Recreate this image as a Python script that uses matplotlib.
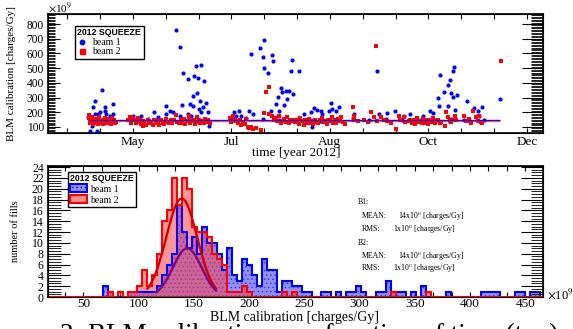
import numpy as np
import matplotlib
matplotlib.use('Agg')
import matplotlib.pyplot as plt
from matplotlib.ticker import MultipleLocator, FixedLocator, NullFormatter
from matplotlib.patches import Patch
from matplotlib.lines import Line2D

plt.rcParams['font.family'] = ['Liberation Serif', 'DejaVu Serif']
plt.rcParams['mathtext.fontset'] = 'stix'
plt.rcParams['hatch.linewidth'] = 0.5

# ---------------- data: top panel (day of year 2012, calibration x1e9) -------------
b1_day = [94.8, 98.8, 95.8, 97.8, 96.8, 97.8, 102.2, 100.8, 103.8, 104.8, 106.9, 108.9, 108.9,
          103.8, 99.8, 93.7, 121.0, 125.7, 134.1, 141.2, 141.2, 136.2, 123.0, 130.0,
          147.4, 149.5, 151.5, 154.5, 158.0, 160.6, 159.6, 162.6, 164.0, 157.5, 160.0, 150.9,
          155.9, 157.5, 162.0, 165.6, 163.6, 161.2, 166.6, 162.6, 156.5, 154.5, 149.5, 167.2,
          145.4, 143.4,
          192.9, 198.3, 200.6, 200.0, 206.0, 206.4, 201.0, 203.0, 217.1, 218.1, 211.1, 209.1,
          212.1, 214.1, 216.1, 218.6, 208.0, 213.1, 215.1, 205.0, 210.1, 182.8, 185.8, 191.9,
          186.8, 183.8, 193.9, 181.8,
          221.9, 231.4, 233.4, 235.4, 236.4, 241.5, 246.5, 244.5, 242.5, 240.4, 229.3, 225.3,
          230.3, 269.7, 255.6, 270.7, 275.8, 280.8, 285.9, 289.9,
          308.1, 316.8, 316.2, 314.1, 312.7, 310.7, 306.7, 314.8, 318.2, 315.8, 307.5, 312.7,
          317.2, 324.3, 328.7, 333.7, 331.3, 344.5, 302.0, 304.1, 298.0, 322.8, 331.7,
          95, 99, 103, 107, 120, 128, 135, 145, 150, 158, 165, 182, 190, 200, 210, 225, 235,
          245, 255, 265, 275, 285, 295, 305, 315, 325, 335]
b1_val = [75, 70, 109, 188, 234, 279, 351, 200, 211, 188, 177, 256, 188,
          234, 188, 166, 177, 177, 200, 245, 188, 166, 143, 154,
          760, 642, 465, 426, 449, 433, 512, 519, 410, 313, 329, 252,
          256, 245, 279, 261, 234, 222, 200, 200, 177, 188, 177, 109,
          200, 211,
          596, 637, 692, 574, 592, 546, 501, 465, 483, 556, 365, 306,
          336, 342, 347, 324, 256, 252, 290, 211, 211, 200, 211, 211,
          177, 177, 188, 166,
          478, 229, 215, 206, 188, 261, 238, 211, 222, 206, 200, 188,
          102, 478, 188, 188, 193, 206, 177, 188,
          454, 510, 478, 420, 386, 340, 297, 329, 320, 306, 245, 245,
          215, 274, 227, 234, 206, 293, 206, 193, 177, 147, 177,
          140, 150, 130, 160, 150, 140, 150, 145, 160, 150, 140, 150, 160, 155, 150, 150, 140,
          150, 160, 150, 155, 150, 145, 150, 155, 150, 150]

b2_day = [94, 94.5, 95, 95.5, 96, 96.5, 97, 97.5, 98, 98.5, 99, 99.5, 100, 100.5, 101, 101.5,
          102, 102.5, 103, 103.5, 104, 104.5, 105, 105.5, 106, 106.5, 107, 107.5, 108, 108.5,
          109, 109.5, 110, 110.5, 94, 96, 100, 104, 108,
          118, 119, 119.5, 120, 121, 122, 123, 124, 125, 126, 127, 128, 129, 130, 131, 132, 133,
          134, 135, 136, 137, 138, 139, 140, 141, 142, 143, 144, 145, 120, 124, 127,
          146, 147, 148, 149, 150, 151, 152, 153, 154, 155, 156, 157, 158, 159, 160, 161, 162,
          163, 164, 165, 166, 167, 168, 155, 160,
          180, 181, 182, 183, 184, 185, 186, 187, 188, 189, 190, 191, 192, 193, 194, 196, 199,
          201, 202, 204, 204, 206, 207, 208, 209, 210, 211, 212, 213, 214, 215, 216, 217, 218, 219,
          220, 221, 222, 223, 224, 225, 226, 227, 228, 229, 230, 231, 232, 233, 234, 235, 236,
          237, 238, 239, 240, 241, 242, 243, 244, 245, 246, 247, 248, 249, 250,
          255, 255.6, 256, 258, 262, 264, 266, 268, 269, 270, 272, 274, 276, 278, 281, 283, 284,
          286, 287, 289,
          290, 291, 292, 293, 294, 295, 296, 297, 298, 299, 300, 301, 302, 303, 304, 305, 306,
          307, 308, 309,
          311, 312, 313, 314, 315, 316, 317, 318, 323, 324, 326, 327, 328, 330, 331, 332, 333,
          334, 345]
b2_val = [160, 140, 125, 150, 135, 118, 145, 130, 155, 128, 140, 120, 150, 135, 125, 145,
          138, 120, 150, 132, 142, 125, 155, 138, 128, 148, 135, 120, 145, 130,
          140, 150, 125, 135, 180, 170, 165, 162, 160,
          150, 165, 140, 130, 155, 145, 125, 135, 150, 120, 140, 130, 110, 145, 125, 135, 115,
          150, 128, 140, 112, 145, 130, 120, 155, 135, 125, 145, 130, 170, 160, 105,
          150, 184, 135, 125, 145, 130, 155, 120, 140, 150, 128, 138, 145, 122, 135, 150, 130,
          140, 125, 155, 135, 145, 128, 175, 165,
          160, 135, 175, 145, 140, 125, 150, 115, 135, 120, 154, 100, 92, 97, 85, 95, 78,
          193, 336, 374, 188, 177, 150, 160, 140, 175, 130, 143, 155, 135, 165, 125, 145, 138, 150,
          135, 150, 120, 160, 140, 110, 145, 130, 155, 125, 140, 118, 150, 135, 128, 145, 160,
          132, 142, 120, 150, 138, 165, 130, 145, 125, 155, 140, 170, 135, 120,
          234, 177, 145, 140, 150, 135, 200, 170, 648, 140, 166, 147, 140, 130, 86, 177, 150,
          166, 135, 143,
          150, 130, 145, 120, 160, 135, 140, 125, 155, 130, 145, 120, 150, 135, 160, 128, 140,
          150, 125, 135,
          109, 200, 166, 140, 132, 150, 177, 145, 177, 140, 154, 130, 206, 166, 140, 177, 132,
          125, 546]

line_start, line_end = 94.0, 344.6
b1_mean_line = 147
b2_mean_line = 142

month_ticks = [121, 181, 241, 301, 361]
month_labels = ['May', 'Jul', 'Aug', 'Oct', 'Dec']

# ---------------- data: bottom panel histogram ----------------
hist_lo, hist_w, n_bins = 18.0, 4.5, 100
b1_counts = [0]*100
b2_counts = [0]*100
b1_nonzero = {11: 2, 12: 1, 16: 1, 17: 1, 18: 1, 19: 1, 20: 1, 21: 1, 22: 2, 23: 4, 24: 6,
              25: 8, 26: 17, 27: 12, 28: 9, 29: 11, 30: 8, 31: 13, 32: 10, 33: 10, 34: 8,
              35: 5, 36: 9, 37: 4, 38: 3, 39: 7, 40: 6, 41: 4, 42: 2, 43: 7, 44: 5, 45: 5,
              46: 1, 47: 3, 48: 3, 49: 2, 50: 2, 51: 1, 52: 1, 55: 1, 56: 1, 58: 1, 60: 1,
              61: 1, 62: 2, 63: 1, 66: 1, 67: 1, 68: 3, 69: 1, 70: 1, 71: 1, 73: 1, 75: 2,
              80: 1, 87: 1, 88: 1, 89: 1, 90: 1, 94: 1, 95: 1, 97: 1, 98: 1}
b2_nonzero = {12: 1, 14: 1, 16: 1, 17: 1, 18: 2, 19: 5, 20: 2, 21: 4, 22: 8, 23: 14, 24: 16,
              25: 22, 26: 17, 27: 22, 28: 20, 29: 13, 30: 12, 31: 12, 32: 11, 33: 8, 34: 7,
              35: 6, 36: 1, 37: 1, 38: 1, 39: 2, 40: 1, 47: 1, 49: 1, 69: 1, 76: 1}
for k, v in b1_nonzero.items():
    b1_counts[k] = v
for k, v in b2_nonzero.items():
    b2_counts[k] = v

# gaussian fits
fit_b2 = dict(amp=18.2, mean=139.0, sigma=14.0, lo=108.0, hi=170.0)
fit_b1 = dict(amp=9.0, mean=144.0, sigma=13.0, lo=116.0, hi=170.0)

stats_lines = ["B1:", "MEAN:", "RMS:", "B2:", "MEAN:", "RMS:"]
stats_values = ["", r"14x10$^{0}$ [charges/Gy]", r"1x10$^{0}$ [charges/Gy]", "",
                r"14x10$^{0}$ [charges/Gy]", r"1x10$^{0}$ [charges/Gy]"]

# ---------------- figure ----------------
W, H = 573, 329
fig = plt.figure(figsize=(W/100, H/100), dpi=100)

def fx(px):
    return px / W

def fy(py):
    return 1 - py / H

# ---- top panel
ax1 = fig.add_axes([fx(48), fy(133), fx(543) - fx(48), fy(14) - fy(133)])
ax1.scatter(b1_day, b1_val, s=3.0**2, marker='o', color='#0000ff', linewidths=0, zorder=3)
ax1.scatter(b2_day, b2_val, s=3.4**2, marker='s', color='#ff0000', linewidths=0, zorder=4)
ax1.hlines(b1_mean_line, line_start, line_end, color='#0000ff', lw=1.0, zorder=5)
ax1.hlines(b2_mean_line, line_start, line_end, color='#ff0000', lw=1.0, alpha=0.6, zorder=6)
ax1.set_xlim(69.2, 370.9)
ax1.set_ylim(59, 868)
ax1.xaxis.set_major_locator(FixedLocator(list(range(81, 371, 20))))
ax1.xaxis.set_major_formatter(plt.FuncFormatter(
    lambda v, p: month_labels[month_ticks.index(int(round(v)))] if int(round(v)) in month_ticks else ''))
ax1.yaxis.set_major_locator(MultipleLocator(100))
ax1.yaxis.set_minor_locator(MultipleLocator(10))
ax1.tick_params(axis='x', which='major', direction='in', length=3.6, width=0.8, top=True,
                labelsize=9.5, pad=2)
ax1.tick_params(axis='y', which='major', direction='in', length=8.6, width=0.8, labelsize=8.3, pad=3)
ax1.tick_params(axis='y', which='minor', direction='in', length=5.0, width=0.6)
for sp in ax1.spines.values():
    sp.set_linewidth(1.2)
ax1r = ax1.twinx()
ax1r.set_ylim(ax1.get_ylim())
ax1r.yaxis.set_major_locator(MultipleLocator(100))
ax1r.yaxis.set_minor_locator(MultipleLocator(10))
ax1r.yaxis.set_major_formatter(NullFormatter())
ax1r.tick_params(axis='y', which='major', direction='in', length=15, width=0.8)
ax1r.tick_params(axis='y', which='minor', direction='in', length=8.6, width=0.6)

leg1 = ax1.legend(handles=[Line2D([], [], marker='o', ls='', color='#0000ff', ms=3.2),
                           Line2D([], [], marker='s', ls='', color='#ff0000', ms=3.6)],
                  labels=['beam 1', 'beam 2'], title='2012 SQUEEZE', loc='upper left',
                  bbox_to_anchor=((75 - 48) / 495, (133 - 26) / 119), borderaxespad=0,
                  fancybox=False, edgecolor='black', framealpha=1, fontsize=7,
                  title_fontproperties={'family': 'Liberation Sans', 'weight': 'bold', 'size': 6.3},
                  handlelength=1.0, handletextpad=0.5, borderpad=0.25, labelspacing=0.05,
                  alignment='left')
leg1.get_frame().set_linewidth(1.0)
leg1.set_zorder(10)

fig.text(fx(48), fy(8), r'$\times$10$^{9}$', fontsize=8, va='center', ha='left')
fig.text(fx(296), fy(153), 'time [year 2012]', fontsize=9.5, ha='center', va='center')
fig.text(fx(12), fy(73.5), 'BLM calibration [charges/Gy]', fontsize=8, rotation=90,
         ha='center', va='center')

# ---- bottom panel
ax2 = fig.add_axes([fx(48), fy(297), fx(543) - fx(48), fy(166) - fy(297)])
edges = hist_lo + hist_w * np.arange(n_bins + 1)
ax2.stairs(b1_counts, edges, fill=True, facecolor='#9090ff', edgecolor='#3030ff',
           hatch='....', linewidth=0, zorder=2)
ax2.stairs(b2_counts, edges, fill=True, facecolor='#ff4040', alpha=0.55, linewidth=0, zorder=3)
ax2.stairs(b1_counts, edges, fill=False, color='#0000ff', linewidth=1.5, zorder=4)
ax2.stairs(b2_counts, edges, fill=False, color='#ff0000', linewidth=1.5, zorder=5)

for fit, col in ((fit_b2, '#d00000'), (fit_b1, '#7a0a7a')):
    xs = np.linspace(fit['lo'], fit['hi'], 200)
    ys = fit['amp'] * np.exp(-0.5 * ((xs - fit['mean']) / fit['sigma']) ** 2)
    ax2.plot(xs, ys, color=col, lw=1.7, zorder=6)

ax2.set_xlim(18, 466)
ax2.set_ylim(0, 24.2)
ax2.xaxis.set_major_locator(MultipleLocator(50))
ax2.xaxis.set_minor_locator(MultipleLocator(50 / 3))
ax2.yaxis.set_major_locator(MultipleLocator(2))
ax2.yaxis.set_minor_locator(MultipleLocator(0.5))
ax2.tick_params(axis='x', which='both', direction='in', length=3.6, width=0.8, top=True,
                labelsize=9.5, pad=1.0)
ax2.tick_params(axis='y', which='major', direction='in', length=16, width=0.8, labelsize=8.5, pad=3)
ax2.tick_params(axis='y', which='minor', direction='in', length=9, width=0.6)
for sp in ax2.spines.values():
    sp.set_linewidth(1.2)
ax2r = ax2.twinx()
ax2r.set_ylim(ax2.get_ylim())
ax2r.yaxis.set_major_locator(MultipleLocator(2))
ax2r.yaxis.set_minor_locator(MultipleLocator(0.5))
ax2r.yaxis.set_major_formatter(NullFormatter())
ax2r.tick_params(axis='y', which='major', direction='in', length=16, width=0.8)
ax2r.tick_params(axis='y', which='minor', direction='in', length=9, width=0.6)

leg2 = ax2.legend(handles=[Patch(facecolor='#9090ff', edgecolor='#0000ff', hatch='....', lw=1.5),
                           Patch(facecolor='#ff8c8c', edgecolor='#ff0000', lw=1.5)],
                  labels=['beam 1', 'beam 2'], title='2012 SQUEEZE', loc='upper left',
                  bbox_to_anchor=((68 - 48) / 495, (297 - 172) / 131), borderaxespad=0,
                  fancybox=False, edgecolor='black', framealpha=1, fontsize=7,
                  title_fontproperties={'family': 'Liberation Sans', 'weight': 'bold', 'size': 6.3},
                  handlelength=1.8, handleheight=0.9, handletextpad=0.3, borderpad=0.2,
                  labelspacing=0.15, alignment='left')
leg2.get_frame().set_linewidth(1.0)
leg2.set_zorder(10)

stat_y = [202, 216, 229, 243, 256, 268]
for lab, val, py in zip(stats_lines, stats_values, stat_y):
    x0 = 358 if lab.startswith('B') else 362
    fig.text(fx(x0), fy(py), lab, fontsize=5.6, va='center', ha='left')
    if val:
        vx = 398 if lab == 'MEAN:' else 393
        fig.text(fx(vx), fy(py), val, fontsize=5.6, va='center', ha='left')

fig.text(fx(547), fy(294), r'$\times$10$^{9}$', fontsize=9, va='center', ha='left')
fig.text(fx(295), fy(317.5), 'BLM calibration [charges/Gy]', fontsize=10, ha='center', va='center')
fig.text(fx(15), fy(231), 'number of fills', fontsize=7.5, rotation=90, ha='center', va='center')

fig.text(fx(60), fy(323), '2: BLM calibration as a function of time (top)', fontsize=19.5,
         ha='left', va='top')

fig.savefig('out.png', dpi=100)
